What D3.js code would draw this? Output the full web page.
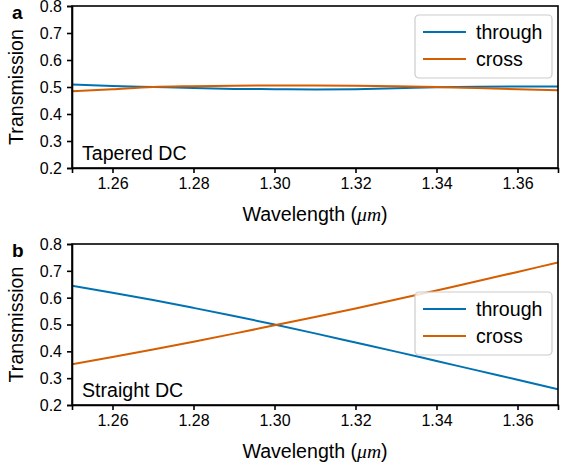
<!DOCTYPE html>
<html>
<head>
<meta charset="utf-8">
<script src="https://cdn.jsdelivr.net/npm/d3@7"></script>
<style>
	body { margin: 0; background: #fff; }
	svg { font-family: "Liberation Sans", Arial, sans-serif; }
	.axis path, .axis line { stroke: #000; stroke-width: 1.6; }
	.axis text { font-size: 16px; fill: #000; }
</style>
</head>
<body>
<svg width="561" height="470"></svg>
<script>
(function() {

	// DATA
	var wavelength = [1.25, 1.26, 1.27, 1.28, 1.29, 1.30, 1.31, 1.32, 1.33, 1.34, 1.35, 1.36, 1.37];

	var taperedThrough = [0.509, 0.504, 0.500, 0.496, 0.493, 0.492, 0.491, 0.492, 0.495, 0.499, 0.501, 0.502, 0.502];
	var taperedCross   = [0.484, 0.492, 0.500, 0.503, 0.505, 0.506, 0.506, 0.505, 0.503, 0.500, 0.496, 0.492, 0.488];

	var straightThrough = [0.644, 0.618, 0.591, 0.562, 0.532, 0.500, 0.467, 0.433, 0.399, 0.364, 0.329, 0.294, 0.259];
	var straightCross   = [0.352, 0.379, 0.407, 0.436, 0.466, 0.497, 0.528, 0.560, 0.593, 0.627, 0.661, 0.696, 0.731];

	var xTicks = [1.26, 1.28, 1.30, 1.32, 1.34, 1.36];
	var yTicks = [0.2, 0.3, 0.4, 0.5, 0.6, 0.7, 0.8];
	var seriesNames = ['through', 'cross'];
	var seriesColors = ['#0072B2', '#D55E00'];

	var panels = [
		{ letter: 'a', label: 'Tapered DC', top: 6, bottom: 168, legendY: 15, series: [taperedThrough, taperedCross] },
		{ letter: 'b', label: 'Straight DC', top: 244, bottom: 405, legendY: 292, series: [straightThrough, straightCross] }
	];

	var left = 72, right = 558;
	var svg = d3.select('svg');

	var x = d3.scaleLinear().domain([1.25, 1.37]).range([left, right]);

	panels.forEach(function(p) {
		var y = d3.scaleLinear().domain([0.2, 0.8]).range([p.bottom, p.top]);
		var g = svg.append('g');

		// clip for lines
		var clipId = 'clip-' + p.letter;
		svg.append('clipPath').attr('id', clipId)
			.append('rect')
			.attr('x', left).attr('y', p.top)
			.attr('width', right - left).attr('height', p.bottom - p.top);

		var line = d3.line()
			.x(function(d, i) { return x(wavelength[i]); })
			.y(function(d) { return y(d); })
			.curve(d3.curveMonotoneX);

		g.append('g').attr('clip-path', 'url(#' + clipId + ')')
			.selectAll('path')
			.data(p.series)
			.enter().append('path')
			.attr('d', line)
			.attr('fill', 'none')
			.attr('stroke', function(d, i) { return seriesColors[i]; })
			.attr('stroke-width', 2);

		// axes
		g.append('g').attr('class', 'axis')
			.attr('transform', 'translate(0,' + p.bottom + ')')
			.call(d3.axisBottom(x).tickValues(xTicks).tickFormat(d3.format('.2f')).tickSizeOuter(0).tickSize(5).tickPadding(4))
			.call(function(a) { a.selectAll('text').attr('dy', '0.78em'); });

		g.append('g').attr('class', 'axis')
			.attr('transform', 'translate(' + left + ',0)')
			.call(d3.axisLeft(y).tickValues(yTicks).tickFormat(d3.format('.1f')).tickSizeOuter(0).tickSize(5).tickPadding(5))
			.call(function(a) { a.selectAll('text').attr('dy', '0.34em'); });

		// frame
		g.append('rect')
			.attr('x', left).attr('y', p.top)
			.attr('width', right - left).attr('height', p.bottom - p.top)
			.attr('fill', 'none').attr('stroke', '#000').attr('stroke-width', 1.6);

		// labels
		g.append('text')
			.attr('transform', 'translate(23,' + ((p.top + p.bottom) / 2) + ')rotate(-90)')
			.attr('text-anchor', 'middle')
			.style('font-size', '19.6px')
			.text('Transmission');

		var xl = g.append('text')
			.attr('x', (left + right) / 2)
			.attr('y', p.bottom + 53)
			.attr('text-anchor', 'middle')
			.style('font-size', '19.6px');
		xl.append('tspan').text('Wavelength (');
		xl.append('tspan').style('font-family', '"Liberation Serif", serif').style('font-style', 'italic').text('\u03bcm');
		xl.append('tspan').text(')');

		g.append('text')
			.attr('x', 12).attr('y', p.top + 13)
			.style('font-size', '19px').style('font-weight', 'bold')
			.text(p.letter);

		g.append('text')
			.attr('x', 82).attr('y', p.bottom - 8)
			.style('font-size', '19.6px')
			.text(p.label);

		// legend
		var lg = g.append('g').attr('transform', 'translate(415,' + p.legendY + ')');
		lg.append('rect')
			.attr('x', 0).attr('y', 0).attr('width', 137).attr('height', 63)
			.attr('rx', 4)
			.attr('fill', 'rgba(255,255,255,0.8)')
			.attr('stroke', '#cccccc').attr('stroke-width', 1.2);
		seriesNames.forEach(function(name, i) {
			var yy = 17 + i * 27;
			lg.append('line')
				.attr('x1', 8).attr('x2', 51).attr('y1', yy).attr('y2', yy)
				.attr('stroke', seriesColors[i]).attr('stroke-width', 2);
			lg.append('text')
				.attr('x', 61).attr('y', yy + 7)
				.style('font-size', '19.6px')
				.text(name);
		});
	});

})()
</script>
</body>
</html>
